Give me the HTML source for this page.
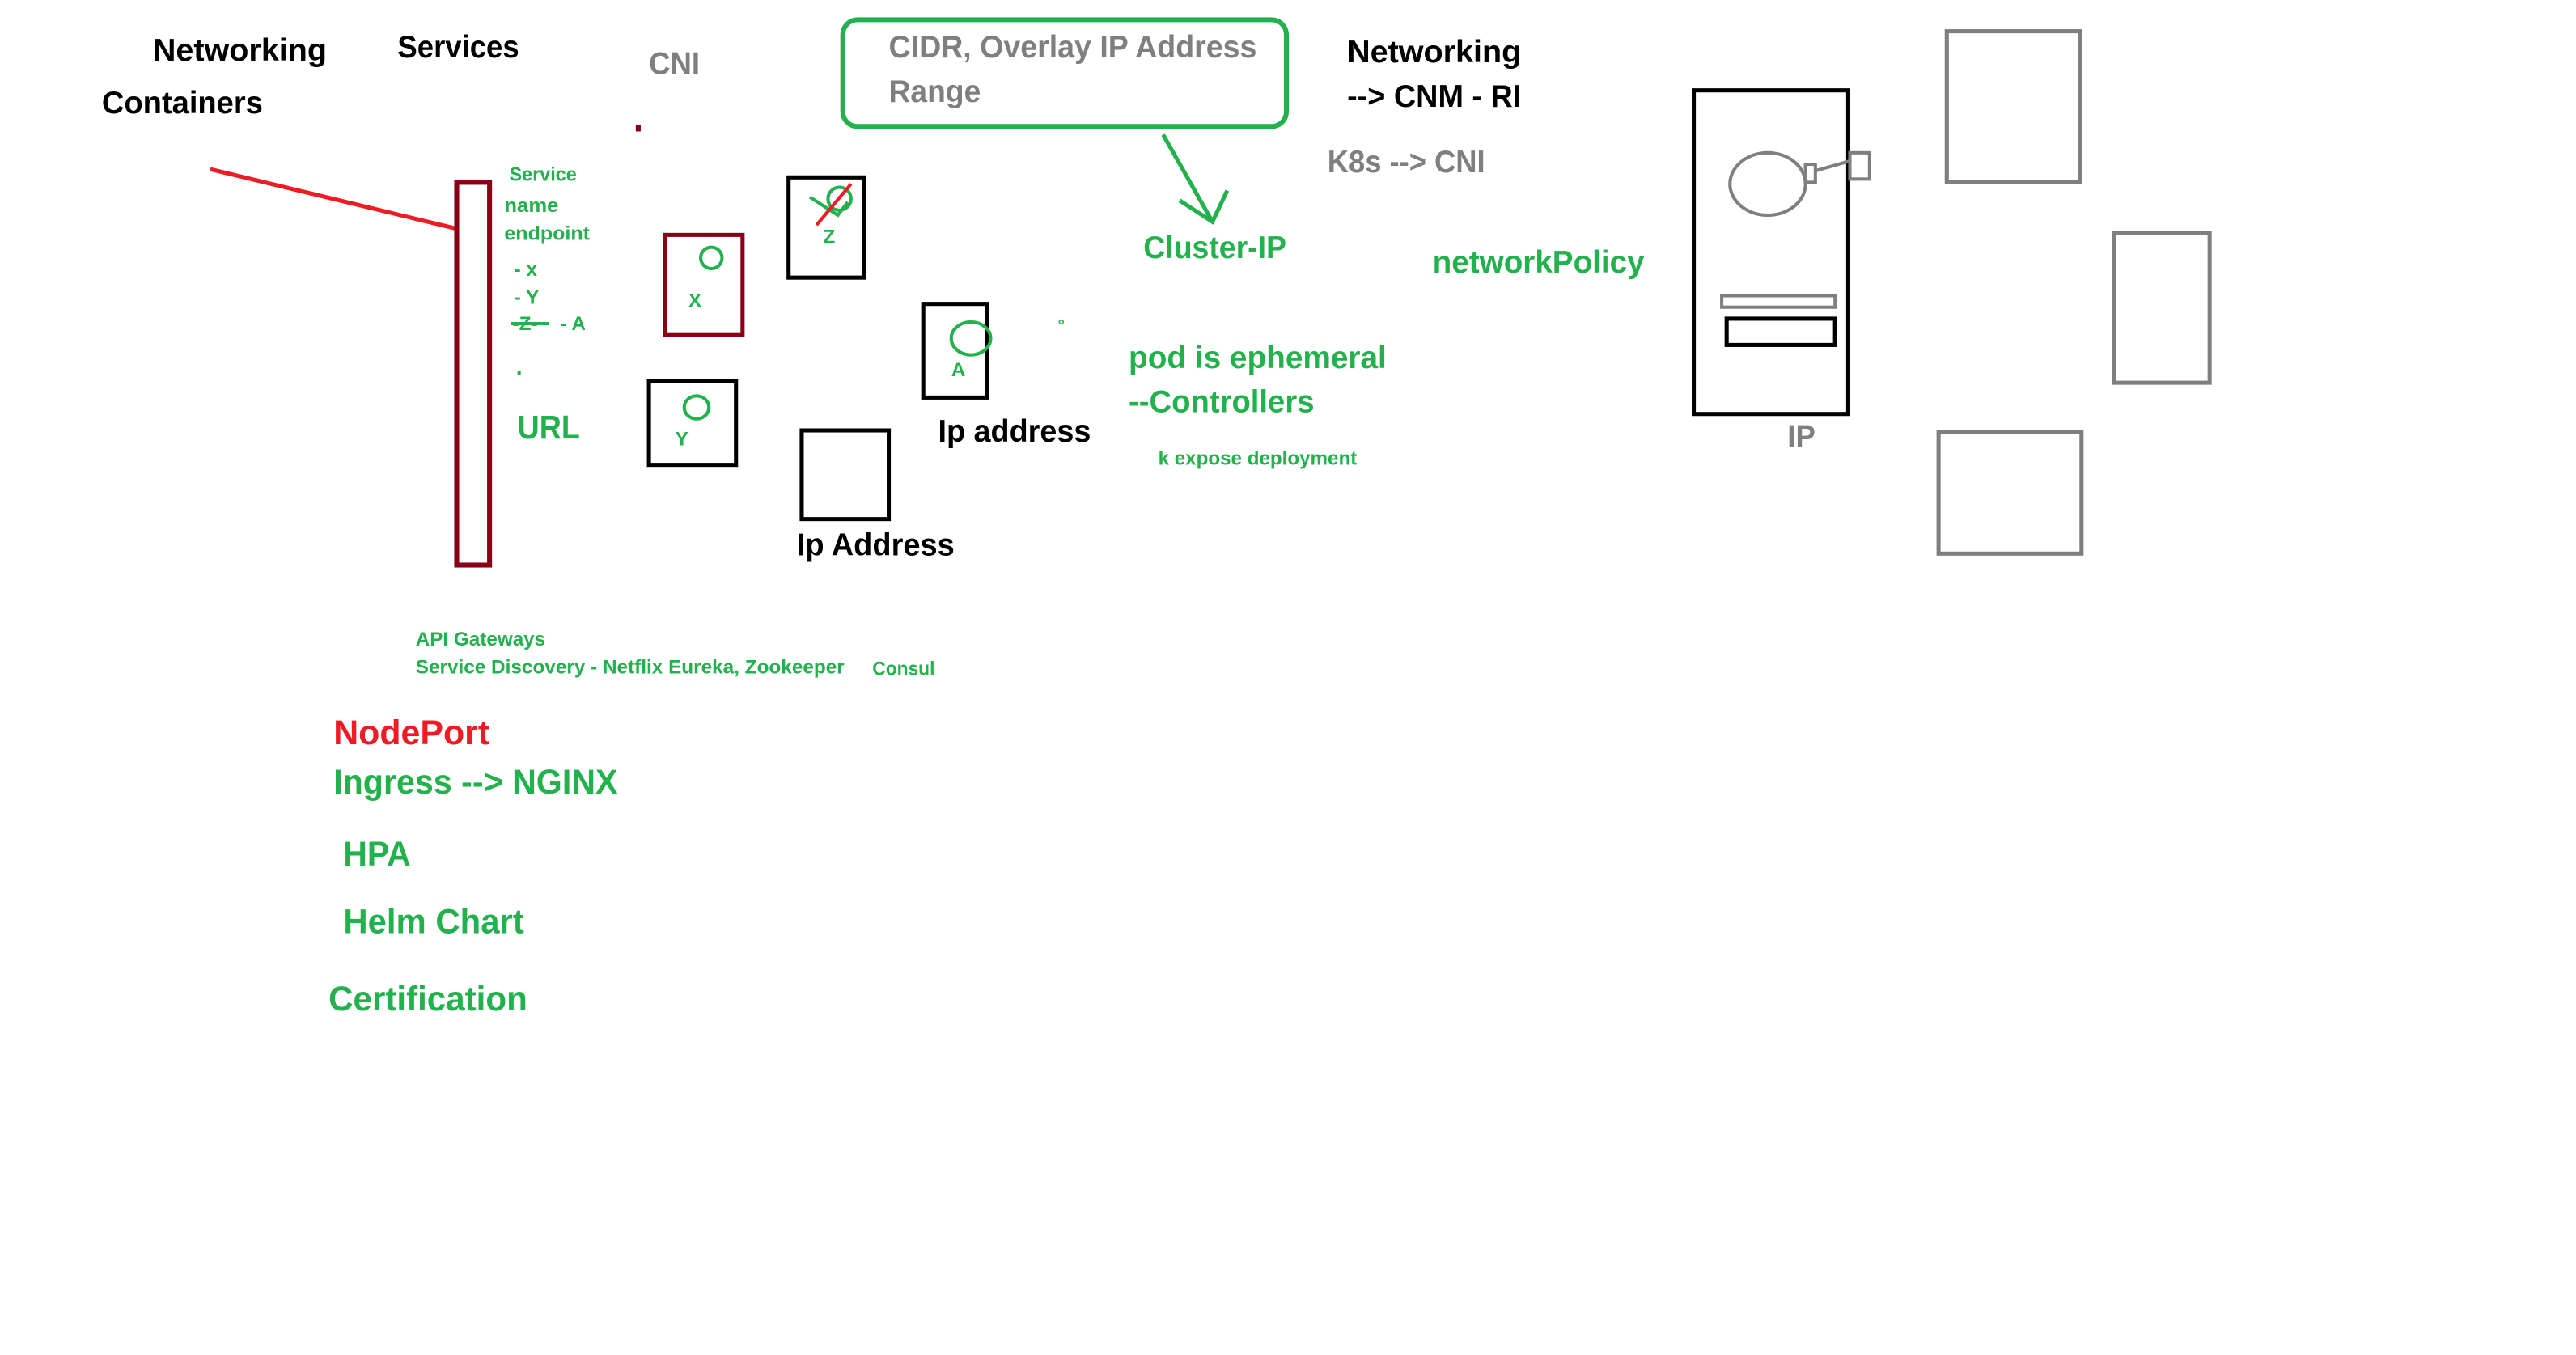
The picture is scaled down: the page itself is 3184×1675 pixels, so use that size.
<!DOCTYPE html>
<html><head><meta charset="utf-8"><style>
html,body{margin:0;padding:0;background:#fff;}
svg{display:block;}
text{font-family:"Liberation Sans",sans-serif;font-weight:bold;}
.g{fill:#22b14c}.k{fill:#000}.gr{fill:#7f7f7f}
</style></head><body>
<svg width="3184" height="1675" viewBox="0 0 1568 824.9" preserveAspectRatio="none" xmlns="http://www.w3.org/2000/svg">
<rect width="1568" height="824.9" fill="#fff"/>
<text class="k" x="93" y="37" font-size="19" textLength="106" lengthAdjust="spacingAndGlyphs">Networking</text>
<text class="k" x="242" y="35" font-size="19" textLength="74" lengthAdjust="spacingAndGlyphs">Services</text>
<text class="k" x="62" y="69" font-size="19" textLength="98" lengthAdjust="spacingAndGlyphs">Containers</text>
<text class="gr" x="395" y="45" font-size="19" textLength="31" lengthAdjust="spacingAndGlyphs">CNI</text>
<rect x="387" y="76" width="3" height="4" fill="#880015"/>
<rect x="513" y="12" width="270" height="65" rx="9" fill="none" stroke="#22b14c" stroke-width="3"/>
<text class="gr" x="541" y="35" font-size="19" textLength="224" lengthAdjust="spacingAndGlyphs">CIDR, Overlay IP Address</text>
<text class="gr" x="541" y="62" font-size="19" textLength="56" lengthAdjust="spacingAndGlyphs">Range</text>
<path d="M708 82 L738 135 M718 122 L738 135 L747 116" fill="none" stroke="#22b14c" stroke-width="2.5"/>
<text class="g" x="696" y="157" font-size="19" textLength="87" lengthAdjust="spacingAndGlyphs">Cluster-IP</text>
<text class="k" x="820" y="38" font-size="19" textLength="106" lengthAdjust="spacingAndGlyphs">Networking</text>
<text class="k" x="820" y="65" font-size="19" textLength="106" lengthAdjust="spacingAndGlyphs">--&gt; CNM - RI</text>
<text class="gr" x="808" y="105" font-size="19" textLength="96" lengthAdjust="spacingAndGlyphs">K8s --&gt; CNI</text>
<text class="g" x="872" y="166" font-size="19" textLength="129" lengthAdjust="spacingAndGlyphs">networkPolicy</text>
<text class="g" x="687" y="224" font-size="19" textLength="157" lengthAdjust="spacingAndGlyphs">pod is ephemeral</text>
<text class="g" x="687" y="251" font-size="19" textLength="113" lengthAdjust="spacingAndGlyphs">--Controllers</text>
<text class="g" x="705" y="283" font-size="12" textLength="121" lengthAdjust="spacingAndGlyphs">k expose deployment</text>
<circle cx="646" cy="196" r="1.2" fill="none" stroke="#22b14c" stroke-width="0.8"/>
<line x1="128" y1="103" x2="277" y2="139" stroke="#ed1c24" stroke-width="2.5"/>
<rect x="278" y="111" width="20" height="233" fill="none" stroke="#880015" stroke-width="3"/>
<text class="g" x="310" y="110" font-size="12" textLength="41" lengthAdjust="spacingAndGlyphs">Service</text>
<text class="g" x="307" y="129" font-size="12" textLength="33" lengthAdjust="spacingAndGlyphs">name</text>
<text class="g" x="307" y="146" font-size="12" textLength="52" lengthAdjust="spacingAndGlyphs">endpoint</text>
<text class="g" x="313" y="168" font-size="12">- x</text>
<text class="g" x="313" y="185" font-size="12">- Y</text>
<text class="g" x="312" y="201" font-size="12">-Z-</text>
<line x1="311" y1="197" x2="334" y2="197" stroke="#22b14c" stroke-width="2"/>
<text class="g" x="341" y="201" font-size="12">- A</text>
<rect x="315" y="226" width="2" height="2" fill="#22b14c"/>
<text class="g" x="315" y="267" font-size="20" textLength="38" lengthAdjust="spacingAndGlyphs">URL</text>
<rect x="405" y="143" width="47" height="61" fill="none" stroke="#880015" stroke-width="2.5"/>
<ellipse cx="433" cy="157" rx="6.5" ry="6.5" fill="none" stroke="#22b14c" stroke-width="2"/>
<text class="g" x="419" y="187" font-size="12">X</text>
<rect x="480" y="108" width="46" height="61" fill="none" stroke="#000" stroke-width="2.5"/>
<ellipse cx="511" cy="121" rx="7" ry="7" fill="none" stroke="#22b14c" stroke-width="2"/>
<path d="M493 120 L510 131 L516 123" fill="none" stroke="#22b14c" stroke-width="2"/>
<line x1="497" y1="137" x2="518" y2="112" stroke="#ed1c24" stroke-width="2"/>
<text class="g" x="501" y="148" font-size="12">Z</text>
<rect x="395" y="232" width="53" height="51" fill="none" stroke="#000" stroke-width="2.5"/>
<ellipse cx="424" cy="248" rx="7.5" ry="7" fill="none" stroke="#22b14c" stroke-width="2"/>
<text class="g" x="411" y="271" font-size="12">Y</text>
<rect x="562" y="185" width="39" height="57" fill="none" stroke="#000" stroke-width="2.5"/>
<ellipse cx="591" cy="206" rx="12" ry="10" fill="none" stroke="#22b14c" stroke-width="2"/>
<text class="g" x="579" y="229" font-size="12">A</text>
<rect x="488" y="262" width="53" height="54" fill="none" stroke="#000" stroke-width="2.5"/>
<text class="k" x="571" y="269" font-size="19" textLength="93" lengthAdjust="spacingAndGlyphs">Ip address</text>
<text class="k" x="485" y="338" font-size="19" textLength="96" lengthAdjust="spacingAndGlyphs">Ip Address</text>
<text class="g" x="253" y="393" font-size="12" textLength="79" lengthAdjust="spacingAndGlyphs">API Gateways</text>
<text class="g" x="253" y="410" font-size="12" textLength="261" lengthAdjust="spacingAndGlyphs">Service Discovery  - Netflix Eureka, Zookeeper</text>
<text class="g" x="531" y="411" font-size="12" textLength="38" lengthAdjust="spacingAndGlyphs">Consul</text>
<text x="203" y="453" font-size="21" fill="#ed1c24" textLength="95" lengthAdjust="spacingAndGlyphs">NodePort</text>
<text class="g" x="203" y="483" font-size="21" textLength="173" lengthAdjust="spacingAndGlyphs">Ingress --&gt; NGINX</text>
<text class="g" x="209" y="527" font-size="21" textLength="41" lengthAdjust="spacingAndGlyphs">HPA</text>
<text class="g" x="209" y="568" font-size="21" textLength="110" lengthAdjust="spacingAndGlyphs">Helm Chart</text>
<text class="g" x="200" y="615" font-size="21" textLength="121" lengthAdjust="spacingAndGlyphs">Certification</text>
<rect x="1031" y="55" width="94" height="197" fill="none" stroke="#000" stroke-width="2.5"/>
<ellipse cx="1076" cy="112" rx="23" ry="19" fill="none" stroke="#7f7f7f" stroke-width="2"/>
<rect x="1099" y="100" width="6" height="11" fill="none" stroke="#7f7f7f" stroke-width="2"/>
<line x1="1105" y1="104" x2="1126" y2="98" stroke="#7f7f7f" stroke-width="2"/>
<rect x="1126" y="93" width="12" height="16" fill="none" stroke="#7f7f7f" stroke-width="2"/>
<rect x="1048" y="180" width="69" height="7" fill="none" stroke="#7f7f7f" stroke-width="2"/>
<rect x="1051" y="194" width="66" height="16" fill="none" stroke="#000" stroke-width="2.5"/>
<text class="gr" x="1088" y="272" font-size="19" textLength="17" lengthAdjust="spacingAndGlyphs">IP</text>
<rect x="1185" y="19" width="81" height="92" fill="none" stroke="#7f7f7f" stroke-width="2.5"/>
<rect x="1287" y="142" width="58" height="91" fill="none" stroke="#7f7f7f" stroke-width="2.5"/>
<rect x="1180" y="263" width="87" height="74" fill="none" stroke="#7f7f7f" stroke-width="2.5"/>
</svg>
</body></html>
